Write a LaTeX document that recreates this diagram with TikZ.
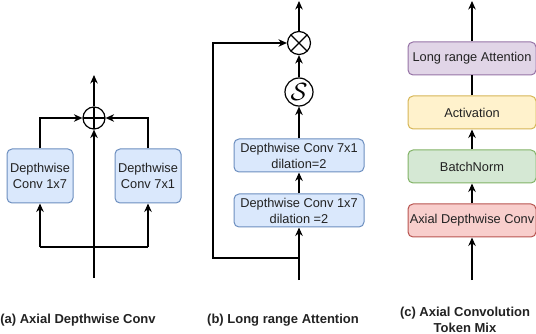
\documentclass[tikz,border=0pt]{standalone}
\usepackage{fontspec}
\setmainfont{Liberation Sans}
\usetikzlibrary{arrows.meta}

\definecolor{blueF}{HTML}{DAE8FC}\definecolor{blueD}{HTML}{6C8EBF}
\definecolor{purpF}{HTML}{E1D5E7}\definecolor{purpD}{HTML}{9673A6}
\definecolor{yellF}{HTML}{FFF2CC}\definecolor{yellD}{HTML}{D6B656}
\definecolor{grnF}{HTML}{D5E8D4}\definecolor{grnD}{HTML}{82B366}
\definecolor{redF}{HTML}{F8CECC}\definecolor{redD}{HTML}{B85450}
\definecolor{txt}{HTML}{222222}

\tikzset{
  blk/.style={rounded corners=5pt, line width=1pt, inner sep=1pt, align=center,
    text=txt, font=\fontsize{12.8}{16}\selectfont},
  bluebox/.style={blk, draw=blueD, fill=blueF},
  purpbox/.style={blk, draw=purpD, fill=purpF, minimum width=128, minimum height=33},
  yellbox/.style={blk, draw=yellD, fill=yellF, minimum width=128, minimum height=33},
  grnbox/.style={blk, draw=grnD, fill=grnF, minimum width=128, minimum height=33},
  redbox/.style={blk, draw=redD, fill=redF, minimum width=128, minimum height=33},
  op/.style={circle, draw, line width=1.2pt, inner sep=0pt},
  oplus/.style={op, minimum size=22,
    path picture={\draw[line width=1.2pt]
      (path picture bounding box.north) -- (path picture bounding box.south)
      (path picture bounding box.west) -- (path picture bounding box.east);}},
  otimes/.style={op, minimum size=23,
    path picture={\draw[line width=1.2pt]
      (path picture bounding box.north west) -- (path picture bounding box.south east)
      (path picture bounding box.north east) -- (path picture bounding box.south west);}},
  ln/.style={line width=1.3pt},
  arr/.style={ln, -{Stealth[length=8.5pt,width=7.5pt]}},
  captext/.style={font=\bfseries\fontsize{13}{16}\selectfont, align=center, text=txt}
}

\begin{document}
\begin{tikzpicture}[x=1pt, y=-1pt]
\useasboundingbox (0,0) rectangle (536,334);

% ---------- (a) Axial depthwise convolution ----------
\node[bluebox, minimum width=66, minimum height=54] (a1) at (40,176) {Depthwise\\Conv 1x7};
\node[bluebox, minimum width=66, minimum height=54] (a2) at (148,176) {Depthwise\\Conv 7x1};
\node[oplus] (ap) at (94,118) {};
\coordinate (ain) at (94,278);
\coordinate (aout) at (94,75);
\coordinate (abl) at (40,247);
\coordinate (abr) at (148,247);
\draw[ln] (abl) -- (abr);
\draw[arr] (abl) -- (a1.south);
\draw[arr] (abr) -- (a2.south);
\draw[arr] (ain) -- (ap.south);
\draw[arr] (a1.north) |- (ap.west);
\draw[arr] (a2.north) |- (ap.east);
\draw[arr] (ap.north) -- (aout);

% ---------- (b) Long range attention ----------
\node[bluebox, minimum width=130, minimum height=33] (b2) at (299,210.5) {Depthwise Conv 1x7\\dilation =2};
\node[bluebox, minimum width=130, minimum height=33] (b1) at (299,155.5) {Depthwise Conv 7x1\\dilation=2};
\node[op, minimum size=28] (bs) at (299,92) {\fontsize{25}{25}\selectfont$\mathcal{S}$};
\node[otimes] (bx) at (299,43) {};
\coordinate (bin) at (299,280);
\coordinate (bj) at (299,258);
\coordinate (bc) at (213,258);
\coordinate (bout) at (299,1);
\draw[arr] (bin) -- (b2.south);
\draw[arr] (b2.north) -- (b1.south);
\draw[arr] (b1.north) -- (bs.south);
\draw[arr] (bs.north) -- (bx.south);
\draw[arr] (bx.north) -- (bout);
\draw[arr] (bj) -- (bc) |- (bx.west);

% ---------- (c) Axial convolution token mix ----------
\node[redbox]  (c1) at (472,220.5) {Axial Depthwise Conv};
\node[grnbox]  (c2) at (472,166.5) {BatchNorm};
\node[yellbox] (c3) at (472,112.5) {Activation};
\node[purpbox] (c4) at (472,58.5)  {Long range Attention};
\coordinate (cin) at (472,280);
\coordinate (cout) at (472,1);
\draw[arr] (cin) -- (c1.south);
\draw[arr] (c1.north) -- (c2.south);
\draw[arr] (c2.north) -- (c3.south);
\draw[ln]  (c3.north) -- (c4.south);
\draw[arr] (c4.north) -- (cout);

% ---------- captions ----------
\node[captext] (ta) at (78,320) {(a) Axial Depthwise Conv};
\node[captext] (tb) at (283,320) {(b) Long range Attention};
\node[captext] (tc) at (465,320) {(c) Axial Convolution\\Token Mix};
\end{tikzpicture}
\end{document}
